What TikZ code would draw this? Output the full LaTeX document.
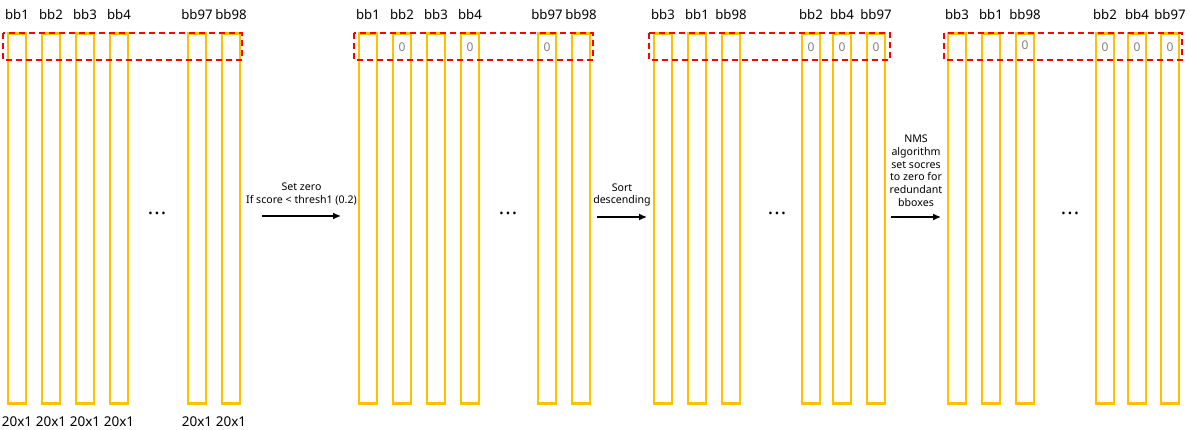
\documentclass[tikz,border=0pt]{standalone}
\usepackage{fontspec}
\setmainfont{Noto Sans}
\usetikzlibrary{positioning}
\usetikzlibrary{arrows.meta}

\definecolor{barcol}{HTML}{FFC000}
\definecolor{zerocol}{HTML}{7F7F7F}

\tikzset{
  bbox/.style={draw=barcol, line width=2.5pt, minimum width=18pt, minimum height=370pt, inner sep=0pt},
  toplbl/.style={font=\fontsize{13.2}{15}\selectfont, inner sep=0pt},
  botlbl/.style={font=\fontsize{13.5}{15}\selectfont, inner sep=0pt},
  zero/.style={font=\fontsize{12}{14}\selectfont, text=zerocol, inner sep=0pt},
  dots/.style={font=\bfseries\fontsize{20}{20}\selectfont, inner sep=0pt},
  selbox/.style={draw=red, line width=1.5pt, dash pattern=on 6pt off 4pt},
  flow/.style={-{Latex[length=8pt,width=7pt]}, line width=1.4pt},
  note/.style={font=\fontsize{10.6}{12.7}\selectfont, align=center, inner sep=0pt}
}

\begin{document}
\begin{tikzpicture}[x=1pt, y=-1pt]
  \useasboundingbox (0,0) rectangle (1190,430);

  % input scores
  \foreach \cx/\tx [count=\i] in {17/bb1,51/bb2,85/bb3,119/bb4,197/bb97,231/bb98} {
    \node[bbox] (a\i) at (\cx,218.5) {};
    \node[toplbl] (a\i-t) at (\cx,15) {\tx};
    \node[botlbl] (a\i-b) at (\cx,422) {20x1};
  }
  \node[dots] (a-dots) at (157,213) {.\hspace{1.2pt}.\hspace{1.2pt}.};
  \draw[selbox] (3,33) rectangle (242,60);

  % after threshold
  \foreach \cx/\tx [count=\i] in {368/bb1,402/bb2,436/bb3,470/bb4,547/bb97,581/bb98} {
    \node[bbox] (b\i) at (\cx,218.5) {};
    \node[toplbl] (b\i-t) at (\cx,15) {\tx};
  }
  \foreach \cx in {402,470,547}
    \node[zero] at (\cx,47) {0};
  \node[dots] (b-dots) at (508,213) {.\hspace{1.2pt}.\hspace{1.2pt}.};
  \draw[selbox] (354,33) rectangle (593,60);

  % after sorting
  \foreach \cx/\tx [count=\i] in {663/bb3,697/bb1,731/bb98,811/bb2,842/bb4,876/bb97} {
    \node[bbox] (c\i) at (\cx,218.5) {};
    \node[toplbl] (c\i-t) at (\cx,15) {\tx};
  }
  \foreach \cx in {811,842,876}
    \node[zero] at (\cx,47) {0};
  \node[dots] (c-dots) at (777,213) {.\hspace{1.2pt}.\hspace{1.2pt}.};
  \draw[selbox] (649,33) rectangle (890,60);

  % after NMS
  \foreach \cx/\tx [count=\i] in {957/bb3,991/bb1,1025/bb98,1105/bb2,1137/bb4,1170/bb97} {
    \node[bbox] (d\i) at (\cx,218.5) {};
    \node[toplbl] (d\i-t) at (\cx,15) {\tx};
  }
  \node[zero] at (1025,45) {0};
  \foreach \cx in {1105,1137,1170}
    \node[zero] at (\cx,47) {0};
  \node[dots] (d-dots) at (1070,213) {.\hspace{1.2pt}.\hspace{1.2pt}.};
  \draw[selbox] (944,33) rectangle (1182,60);

  % steps
  \coordinate (s1) at (262,216);
  \coordinate (e1) at (341,216);
  \coordinate (s2) at (597,217);
  \coordinate (e2) at (647,217);
  \coordinate (s3) at (891,217);
  \coordinate (e3) at (941,217);
  \draw[flow] (s1) -- (e1) node[note, midway, above=10pt] {Set zero\\If score < thresh1 (0.2)};
  \draw[flow] (s2) -- (e2) node[note, midway, above=10pt] {Sort\\descending};
  \draw[flow] (s3) -- (e3) node[note, midway, above=10pt] {NMS\\algorithm\\set socres\\to zero for\\redundant\\bboxes};
\end{tikzpicture}
\end{document}
